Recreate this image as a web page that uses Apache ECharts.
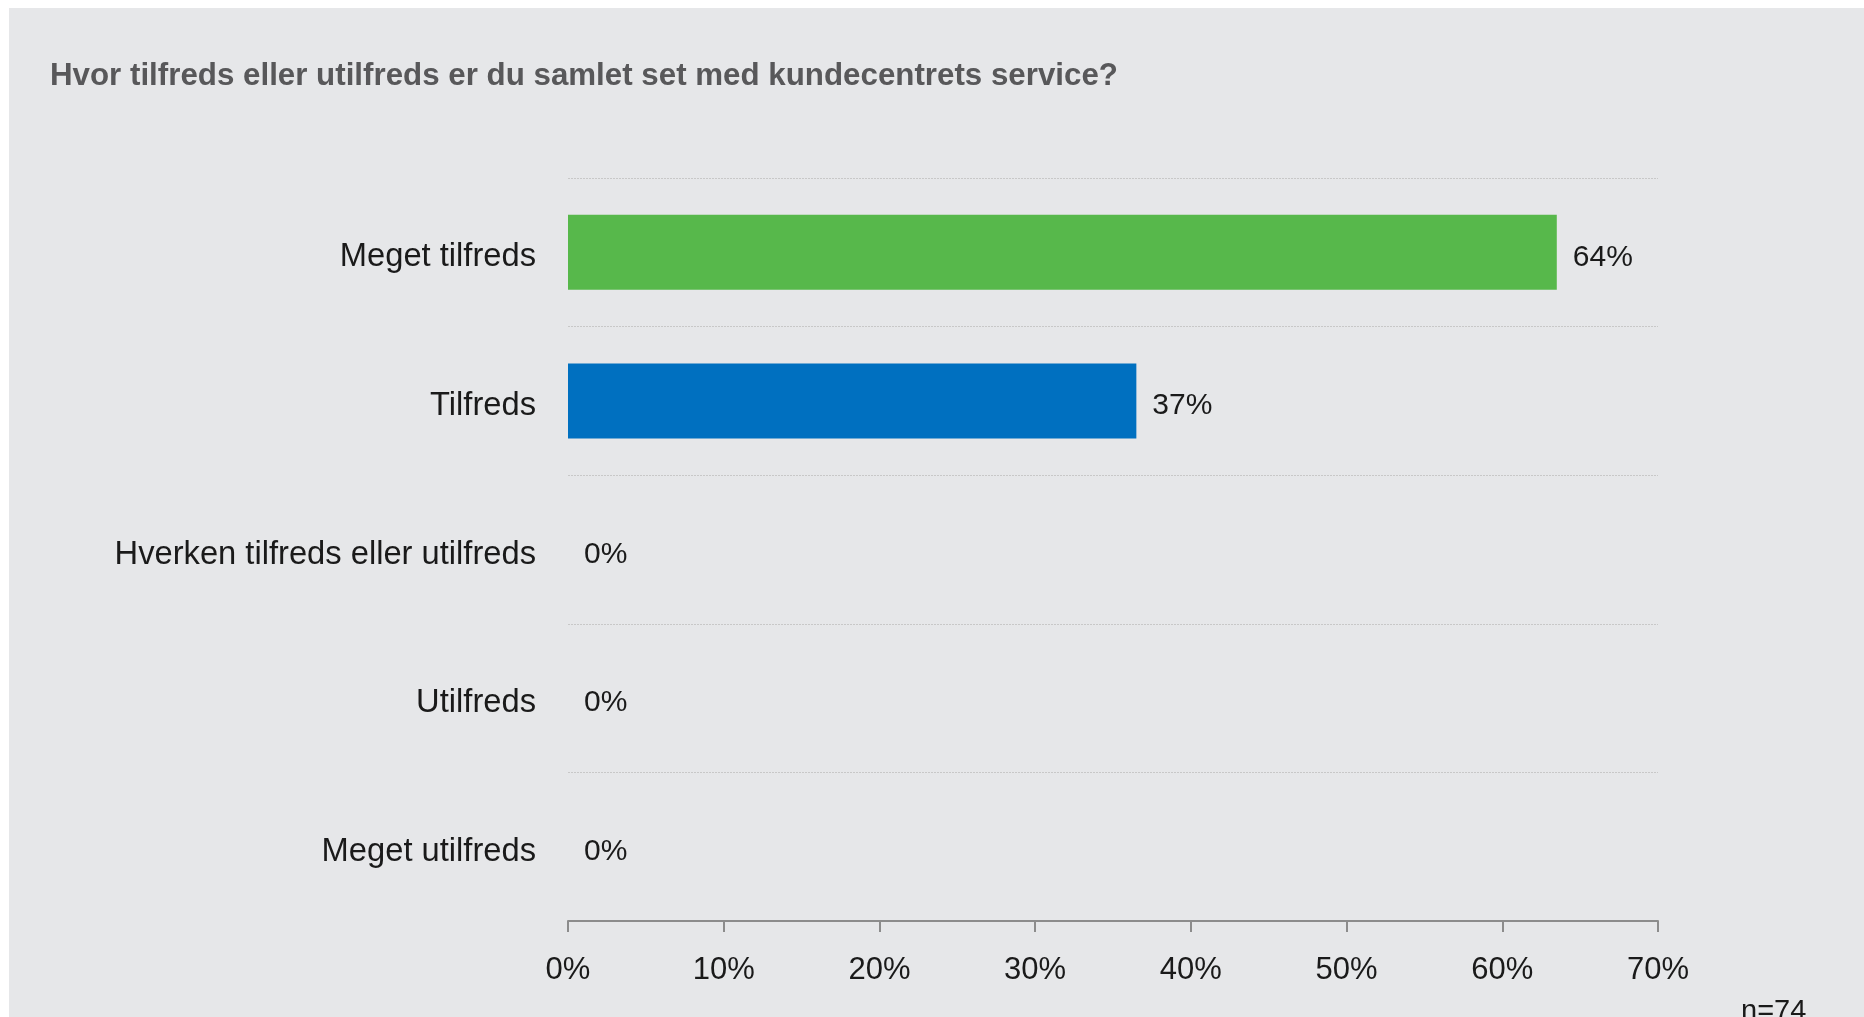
<!DOCTYPE html>
<html>
<head>
<meta charset="utf-8">
<script src="https://cdn.jsdelivr.net/npm/echarts@6/dist/echarts.min.js"></script>
<style>
  html, body { margin: 0; padding: 0; background: #ffffff; width: 1864px; height: 1017px; overflow: hidden; }
  #chart { position: absolute; left: 9px; top: 8px; width: 1855px; height: 1009px; background: #e6e7e9; }
</style>
</head>
<body>
<div id="chart"></div>
<script>
// Survey answers, top to bottom
const categories = [
  'Meget tilfreds',
  'Tilfreds',
  'Hverken tilfreds eller utilfreds',
  'Utilfreds',
  'Meget utilfreds'
];
// Share of respondents (%)
const shares = [63.5, 36.5, 0, 0, 0];
// Axis ticks (%)
const axisMin = 0;
const axisMax = 70;
const axisStep = 10;
const sampleNote = 'n=74';
const titleText = 'Hvor tilfreds eller utilfreds er du samlet set med kundecentrets service?';

const barColors = ['#57b84b', '#0070c0', '#0070c0', '#0070c0', '#0070c0'];
const labelFont = "'Liberation Sans', Arial, sans-serif";

const chart = echarts.init(document.getElementById('chart'), null, { renderer: 'canvas' });

chart.setOption({
  backgroundColor: 'transparent',
  animation: false,
  title: {
    text: titleText,
    left: 36,
    top: 48,
    textStyle: {
      fontFamily: labelFont,
      fontSize: 31.3,
      fontWeight: 'bold',
      color: '#58585a'
    }
  },
  grid: {
    left: 559,
    right: 206,
    top: 170,
    bottom: 96,
    containLabel: false
  },
  xAxis: {
    type: 'value',
    min: axisMin,
    max: axisMax,
    interval: axisStep,
    axisLine: { show: true, lineStyle: { color: '#8c8c8c', width: 2 } },
    axisTick: { show: true, length: 11, lineStyle: { color: '#8c8c8c', width: 2 } },
    splitLine: { show: false },
    axisLabel: {
      margin: 34,
      fontFamily: labelFont,
      fontSize: 31,
      color: '#1a1a1a',
      formatter: v => v + '%'
    }
  },
  yAxis: {
    type: 'category',
    data: categories,
    inverse: true,
    axisLine: { show: false },
    axisTick: { show: false },
    splitLine: {
      show: true,
      lineStyle: { color: '#c8c8c8', width: 1, type: [2, 1] }
    },
    axisLabel: {
      margin: 32,
      formatter: v => '{c|' + v + '}',
      rich: {
        c: {
          padding: [10, 0, 0, 0],
          fontFamily: labelFont,
          fontSize: 32.7,
          color: '#1a1a1a'
        }
      }
    }
  },
  series: [{
    type: 'bar',
    data: shares,
    barWidth: 75,
    itemStyle: {
      color: p => barColors[p.dataIndex]
    },
    label: {
      show: true,
      position: 'right',
      distance: 16,
      formatter: p => '{v|' + Math.round(p.value) + '%}',
      rich: {
        v: {
          padding: [10, 0, 0, 0],
          fontFamily: labelFont,
          fontSize: 30,
          color: '#1a1a1a'
        }
      }
    }
  }],
  graphic: [{
    type: 'text',
    left: 1732,
    top: 989,
    style: {
      text: sampleNote,
      font: "29px 'Liberation Sans', Arial, sans-serif",
      fill: '#1a1a1a'
    }
  }]
});
</script>
</body>
</html>
